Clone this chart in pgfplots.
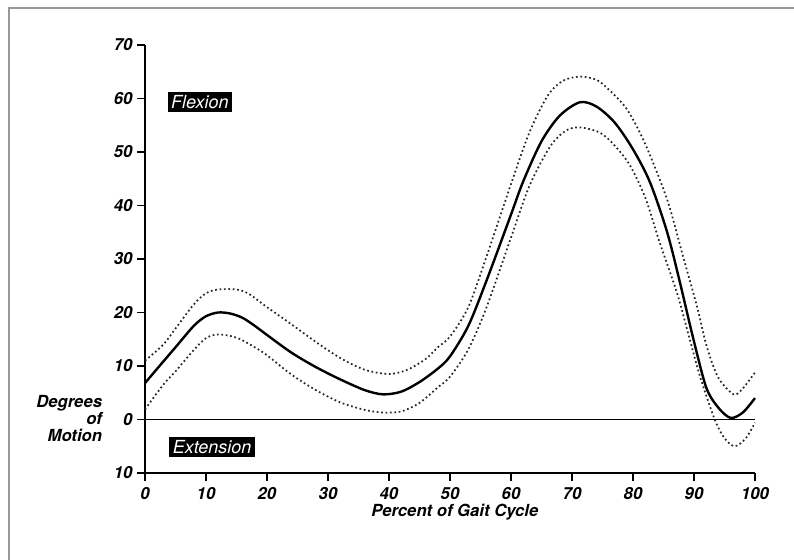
\documentclass[border=0pt]{standalone}
\usepackage{pgfplots}
\pgfplotsset{compat=1.18}
\usepackage{fontspec}
\setmainfont{TeX Gyre Heros}
\begin{document}
\begin{tikzpicture}
\path[use as bounding box] (0pt,0pt) rectangle (595.5pt,420pt);
\draw[gray!80, line width=0.9pt] (6.75pt,0pt) -- (6.75pt,414pt) -- (595.5pt,414pt);
\begin{axis}[
  at={(108.75pt,65.25pt)}, anchor=south west,
  scale only axis, width=457.5pt, height=321pt,
  xmin=0, xmax=100, ymin=-10, ymax=70,
  axis x line*=bottom, axis y line*=left,
  axis line style={-, line width=1.3pt},
  xtick={0,10,...,100}, ytick={-10,0,...,70},
  yticklabels={10,0,10,20,30,40,50,60,70},
  tick align=outside, major tick length=6pt,
  tick style={line width=1.2pt, black},
  /pgf/number format/assume math mode=true,
  ticklabel style={font=\fontsize{12.5}{14}\selectfont\bfseries\itshape},
  xticklabel style={yshift=-1pt},
  clip=false,
]
\addplot[black, line width=1.1pt] coordinates {(0,0) (100,0)};
% upper
\addplot[black!85, line width=1.3pt, dotted, smooth, tension=0.5] coordinates {
(0,11) (3,14) (5,17) (8,21.5) (10,23.6) (12,24.3) (15,24.3) (17,23.5) (20,21) (24,17.8) (28,14.5) (32,11.5) (36,9.3) (40,8.5) (43,9.3) (46,11.3) (48,13.5) (50,15.5) (53,21) (56,30.5) (60,44) (63,53.6) (66,60.5) (68.5,63.3) (71.3,64.1) (74,63.5) (76,61.7) (79,58) (82,51.5) (85.6,41.1) (88.2,30.5) (90.5,21.1) (92.1,13.6) (94,7.8) (96.5,4.7) (98,5.8) (100,8.8)};
% lower
\addplot[black!85, line width=1.3pt, dotted, smooth, tension=0.5] coordinates {
(0,1.9) (3,6.5) (5,9) (8,13) (10,15.2) (12,15.9) (15,15.3) (18,13.5) (20,12) (24,8.4) (28,5.5) (32,3.2) (36,1.8) (39,1.3) (42,1.5) (45,3.1) (48,6) (50,8) (53,13.1) (56,21) (60,34) (63,43.6) (66.4,51) (69,54) (71.3,54.6) (74.6,53.6) (77,51.2) (79.5,47.5) (82,41.5) (84.4,33) (87.2,23.7) (89.3,15) (91,8) (93.4,0) (95,-3.5) (96.7,-5) (98.5,-3.5) (100,-0.6)};
% mean
\addplot[black, line width=1.8pt, smooth, tension=0.5] coordinates {
(0,6.8) (2,9.5) (5,13.5) (8,17.5) (10,19.3) (12,20) (14,19.8) (16,19) (18,17.5) (20,15.8) (24,12.5) (28,9.8) (32,7.5) (36,5.5) (39,4.7) (42,5.2) (45,7.0) (48,9.5) (50,11.8) (53,17.5) (56,26) (60,38.3) (62,44.5) (65,52) (68,56.8) (71.3,59.3) (74,58.5) (77,55.5) (80,50.5) (82.8,44.3) (85.6,35) (87.7,25.6) (89.8,15.5) (92,6) (94,2.2) (96,0.3) (98,1.3) (100,4)};
\node[fill=black, text=white, inner sep=2.5pt, font=\fontsize{13.5}{15}\selectfont\itshape] at (axis cs:9,59.3) {Flexion};
\node[fill=black, text=white, inner sep=2.5pt, font=\fontsize{13.5}{15}\selectfont\itshape] at (axis cs:11,-5.2) {Extension};
\node[anchor=east, align=right, font=\fontsize{12.5}{12.5}\selectfont\bfseries\itshape, inner sep=0pt] at (axis cs:-7.0,0.2) {Degrees\\of\\Motion};
\node[font=\fontsize{12.5}{14}\selectfont\bfseries\itshape] at (axis cs:50.8,-17.4) {Percent of Gait Cycle};
\end{axis}
\end{tikzpicture}
\end{document}
